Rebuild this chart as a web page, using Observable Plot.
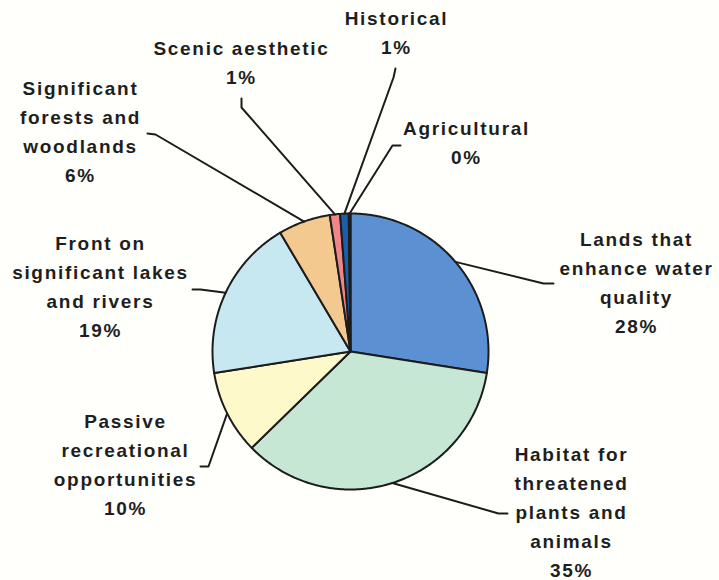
<!DOCTYPE html>
<html><head><meta charset="utf-8">
<script src="https://cdn.jsdelivr.net/npm/d3@7"></script>
<script src="https://cdn.jsdelivr.net/npm/@observablehq/plot@0.6"></script>
<style>
html,body{margin:0;padding:0;background:#fffffb;}
</style></head><body><div id="chart"></div>
<script>
// ---- data ----
const categories = [
  "Lands that enhance water quality",
  "Habitat for threatened plants and animals",
  "Passive recreational opportunities",
  "Front on significant lakes and rivers",
  "Significant forests and woodlands",
  "Scenic aesthetic",
  "Historical",
  "Agricultural"
];
const labelLines = [
  ["Lands that", "enhance water", "quality"],
  ["Habitat for", "threatened", "plants and", "animals"],
  ["Passive", "recreational", "opportunities"],
  ["Front on", "significant lakes", "and rivers"],
  ["Significant", "forests and", "woodlands"],
  ["Scenic aesthetic"],
  ["Historical"],
  ["Agricultural"]
];
const shares = [27.5, 35.2, 9.8, 19.0, 6.1, 1.2, 1.0, 0.2];
const palette = ["#5b90d2", "#c6e7d3", "#fdf9cb", "#c8e8f1", "#f3c990", "#f0858a", "#1b5fa9", "#0d1b2e"];

// ---- layout ----
const W = 719, H = 580, cx = 350, cy = 351, R = 138;
const layout = [
  {lx: 636, ly: 225, elbow: [543, 283], end: [553, 283]},
  {lx: 571, ly: 440, elbow: [498, 513], end: [507, 513]},
  {lx: 125, ly: 407, elbow: [208, 466], end: [200, 466]},
  {lx: 100, ly: 229, elbow: [200, 289], end: [192, 289]},
  {lx: 80,  ly: 74,  elbow: [155, 134], end: [147, 133]},
  {lx: 241, ly: 34,  elbow: [241, 107], end: [241, 98]},
  {lx: 396, ly: 4,   elbow: [393, 77],  end: [395, 68]},
  {lx: 466, ly: 114, elbow: [392, 145], end: [400, 145]}
];

const arcs = d3.pie().sort(null).value(d => d)(shares);
const pt = (a, r) => [cx + r * Math.sin(a), cy - r * Math.cos(a)];

const wedgeMarks = arcs.map((a, i) => {
  const pts = [[cx, cy]];
  const n = Math.max(2, Math.ceil((a.endAngle - a.startAngle) / 0.01));
  for (let k = 0; k <= n; k++) {
    const t = a.startAngle + (a.endAngle - a.startAngle) * k / n;
    pts.push(pt(t, R));
  }
  pts.push([cx, cy]);
  return Plot.line(pts, {x: d => d[0], y: d => d[1], fill: palette[i], stroke: "#1c1c1c", strokeWidth: 2, strokeLinejoin: "round"});
});

const leaders = [];
arcs.forEach((a, i) => {
  const m = (a.startAngle + a.endAngle) / 2;
  const p0 = pt(m, R);
  [p0, layout[i].elbow, layout[i].end].forEach(p => leaders.push({i, x: p[0], y: p[1]}));
});

const labels = categories.map((c, i) => ({
  x: layout[i].lx, y: layout[i].ly,
  text: labelLines[i].join("\n") + "\n" + Math.round(shares[i]) + "%"
}));

const chart = Plot.plot({
  width: W, height: H, margin: 0,
  x: {domain: [0, W], range: [0, W], axis: null},
  y: {domain: [0, H], range: [0, H], axis: null},
  style: {background: "#fffffb", letterSpacing: "1.7px"},
  marks: [
    ...wedgeMarks,
    Plot.line(leaders, {x: "x", y: "y", z: "i", stroke: "#1c1c1c", strokeWidth: 2, strokeLinejoin: "round"}),
    Plot.text(labels, {x: "x", y: "y", text: "text", lineAnchor: "top", lineHeight: 1.52,
      fontSize: 19, fontWeight: "bold", fill: "#1e1e1e", fontFamily: "Liberation Sans, Arial, sans-serif"})
  ]
});
document.getElementById("chart").appendChild(chart);
</script></body></html>
